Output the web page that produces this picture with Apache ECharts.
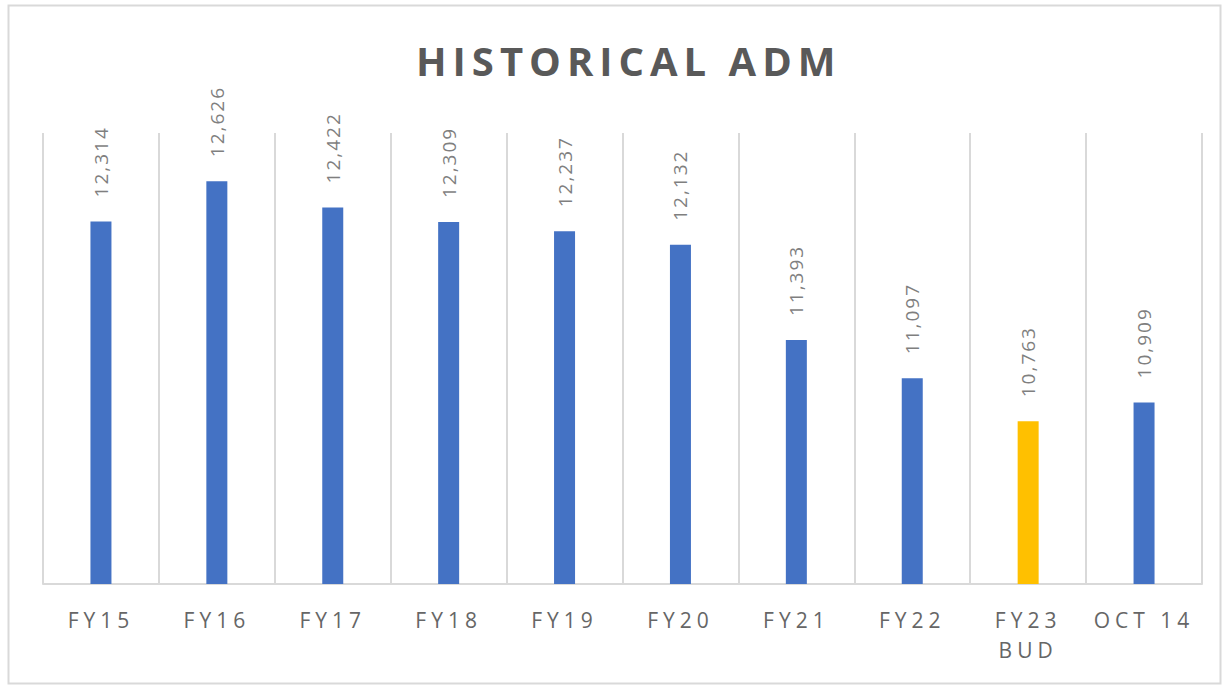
<!DOCTYPE html>
<html>
<head>
<meta charset="utf-8">
<script src="https://cdn.jsdelivr.net/npm/echarts@6/dist/echarts.min.js"></script>
<style>
  html, body { margin: 0; padding: 0; background: #fff; }
  #main { width: 1224px; height: 685px; }
  /* Excel-style spaced lettering on the svg text */
  #main text { letter-spacing: 5px; }
  #main text[style*="40px"] { letter-spacing: 6px; }
  #main text[style*="19px"] { letter-spacing: 2px; }
</style>
</head>
<body>
<div id="main"></div>
<script>
// categories and values
var categories = ['FY15', 'FY16', 'FY17', 'FY18', 'FY19', 'FY20', 'FY21', 'FY22', 'FY23\nBUD', 'OCT 14'];
var admValues = [12314, 12626, 12422, 12309, 12237, 12132, 11393, 11097, 10763, 10909];
var budgetIndex = 8; // FY23 BUD drawn in orange

var blue = '#4472C4';
var orange = '#FFC000';
var textGray = '#595959';
var labelGray = '#7f7f7f';
var gridGray = '#d9d9d9';

var barData = admValues.map(function (v, i) {
    return {
        value: v,
        itemStyle: { color: i === budgetIndex ? orange : blue }
    };
});

var myChart = echarts.init(document.getElementById('main'), null, { renderer: 'svg' });

var option = {
    backgroundColor: '#fff',
    animation: false,
    title: {
        text: 'HISTORICAL ADM',
        left: 411,
        top: 35,
        textStyle: {
            fontFamily: 'Open Sans',
            fontWeight: 'bold',
            fontSize: 40,
            color: textGray
        }
    },
    graphic: [{
        type: 'rect',
        left: 6, top: 3,
        shape: { width: 1212, height: 678 },
        style: { fill: 'none', stroke: gridGray, lineWidth: 2 },
        silent: true
    }],
    grid: {
        left: 43,
        right: 22,
        top: 133,
        bottom: 101
    },
    xAxis: {
        type: 'category',
        data: categories,
        axisLine: { show: true, lineStyle: { color: gridGray, width: 2 } },
        axisTick: { show: false },
        splitLine: { show: true, lineStyle: { color: gridGray, width: 2 } },
        axisLabel: {
            interval: 0,
            margin: 21,
            color: '#666666',
            fontFamily: 'Open Sans',
            fontSize: 21,
            lineHeight: 30
        }
    },
    yAxis: {
        type: 'value',
        min: 9500,
        max: 13000,
        show: false,
        splitLine: { show: false }
    },
    series: [{
        name: 'ADM',
        type: 'bar',
        barWidth: 21,
        data: barData,
        label: {
            show: true,
            position: 'top',
            distance: 24,
            rotate: 90,
            align: 'left',
            verticalAlign: 'middle',
            color: labelGray,
            fontFamily: 'Open Sans',
            fontSize: 19,
            formatter: function (p) {
                return p.value.toLocaleString('en-US');
            }
        }
    }]
};

myChart.setOption(option);
</script>
</body>
</html>
